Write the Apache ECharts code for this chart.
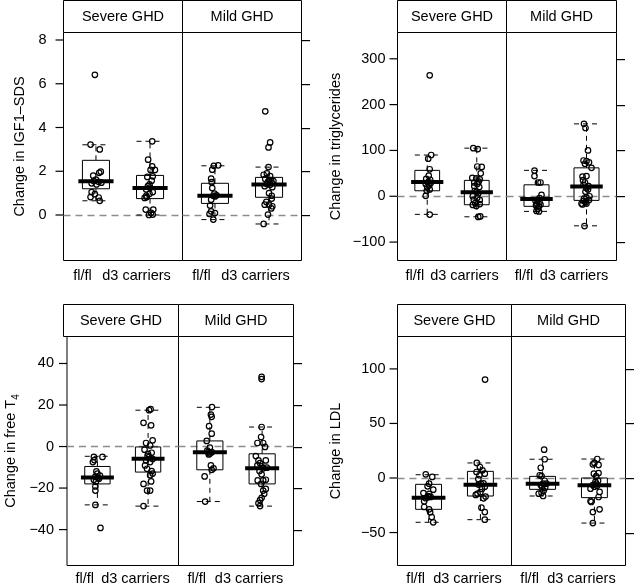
<!DOCTYPE html>
<html>
<head>
<meta charset="utf-8">
<script src="https://cdn.jsdelivr.net/npm/echarts@6/dist/echarts.min.js"></script>
<style>html,body{margin:0;padding:0;background:#fff}#c{width:634px;height:587px}</style>
</head>
<body>
<div id="c"></div>
<script>
// ---------------- data ----------------
const categories = ['fl/fl', 'd3 carriers'];
const facets = ['Severe GHD', 'Mild GHD'];

const igfTicks = [0, 2, 4, 6, 8];
const trigTicks = [-100, 0, 100, 200, 300];
const t4Ticks = [-40, -20, 0, 20, 40];
const ldlTicks = [-50, 0, 50, 100];

// box stats: [min, Q1, median, Q3, max] for [fl/fl, d3 carriers]
const igfBoxSevere = [[0.65, 1.20, 1.54, 2.50, 3.21], [0.0, 0.75, 1.23, 1.81, 3.37]];
const igfBoxMild = [[-0.21, 0.53, 0.88, 1.45, 2.25], [-0.41, 0.81, 1.39, 1.72, 2.19]];
const trigBoxSevere = [[-39.5, 12, 31, 56.5, 90], [-44.8, -18.5, 8.5, 34.7, 105]];
const trigBoxMild = [[-33, -22, -6, 25, 56.5], [-64.5, -9, 21.5, 62, 158]];
const t4BoxSevere = [[-28.1, -18, -14.9, -9.6, -4.7], [-28.7, -12.3, -5.9, -0.2, 17.5]];
const t4BoxMild = [[-26.5, -11.2, -2.7, 2.7, 18.9], [-28.7, -18, -10.4, -3.5, 9.4]];
const ldlBoxSevere = [[-40.6, -28.7, -18, -5.8, 3], [-38.2, -16.5, -6.1, 6.1, 13.8]];
const ldlBoxMild = [[-16.5, -10.4, -5.2, 1.5, 17.2], [-41.3, -18, -6.7, 0, 17.4]];

// individual points: [horizontal jitter, value]
const igfSevereFl = [[-0.02,6.41],[-0.10,3.22],[0.07,3.0],[0.09,1.98],[0.06,1.93],[-0.05,1.80],[0.0,1.62],[-0.04,1.55],[0.05,1.52],[0.10,1.48],[-0.08,1.45],[0.01,1.40],[-0.08,1.05],[-0.02,0.95],[-0.10,0.82],[0.05,0.80],[0.07,0.65]];
const igfSevereD3 = [[0.04,3.37],[-0.035,2.53],[0.04,2.22],[0.09,2.06],[0.01,2.06],[0.05,1.77],[-0.05,1.74],[0.03,1.57],[-0.01,1.40],[-0.04,1.32],[0.0,1.25],[-0.07,1.17],[0.05,1.05],[-0.01,0.97],[-0.07,0.88],[-0.10,0.78],[-0.06,0.82],[-0.08,0.25],[0.06,0.25],[0.02,0.10],[0.05,0.02],[-0.02,0.0]];
const igfMildFl = [[-0.02,2.25],[0.06,2.27],[-0.05,2.07],[-0.07,1.66],[-0.06,1.5],[-0.05,1.23],[-0.01,0.98],[-0.03,0.88],[0.0,0.85],[0.03,0.9],[-0.07,0.7],[-0.09,0.43],[-0.07,0.17],[0.0,0.09],[-0.03,-0.21],[-0.10,0.05]];
const igfMildD3 = [[-0.07,4.74],[0.02,3.32],[-0.01,3.09],[-0.01,2.19],[-0.10,1.84],[-0.04,1.90],[0.02,1.78],[-0.07,1.65],[0.0,1.58],[-0.02,1.52],[0.05,1.48],[-0.04,1.42],[0.02,1.38],[-0.08,1.32],[0.06,1.27],[0.0,1.0],[0.05,0.88],[-0.08,0.47],[0.0,0.47],[0.06,0.40],[0.05,0.75],[-0.02,0.02],[-0.10,-0.41],[0.03,1.6],[0.08,1.55],[-0.05,0.6],[0.04,0.3]];

const trigSevereFl = [[0.05,264],[0.08,90],[0.02,82],[0.05,59],[0.03,45],[-0.02,38],[0.06,36],[0.02,31],[0.07,29],[-0.03,27],[0.04,24],[0.0,20],[0.05,15],[-0.01,12],[-0.03,1],[0.05,-40]];
const trigSevereD3 = [[-0.07,105],[0.02,103],[0.01,65],[0.10,64],[0.08,50],[-0.09,40],[-0.01,39],[0.06,37],[-0.05,30],[0.01,27],[-0.05,22],[0.05,20],[0.0,10],[0.03,6],[-0.08,0],[0.01,-3],[-0.06,-8],[0.06,-8],[-0.03,-15],[-0.08,-19],[-0.01,-21],[0.06,-17],[0.03,-45],[0.07,-44],[-0.04,12],[0.04,32]];
const trigMildFl = [[-0.04,56],[-0.04,44],[0.03,30],[0.08,30],[0.10,3],[0.06,-4],[0.03,-8],[-0.02,-10],[0.06,-13],[0.01,-16],[0.05,-22],[0.03,-27],[0.0,-32],[0.05,-33],[-0.01,-20],[0.08,-18]];
const trigMildD3 = [[-0.05,158],[-0.02,149],[0.03,100],[-0.06,78],[0.0,77],[-0.03,71],[0.05,74],[0.10,62],[-0.08,43],[0.0,44],[-0.07,35],[-0.03,30],[-0.06,25],[0.0,18],[0.03,15],[-0.02,10],[0.06,0],[0.0,-3],[0.05,-8],[-0.06,-10],[-0.02,-13],[-0.08,-18],[-0.1,-16],[0.0,-16],[-0.04,-65],[0.04,22],[-0.05,-5]];

const t4SevereFl = [[-0.07,-5],[0.10,-5],[-0.09,-7.5],[-0.06,-6.5],[-0.02,-12],[0.0,-13],[-0.04,-14.5],[0.01,-15],[-0.07,-16],[-0.03,-17],[0.03,-15.5],[0.05,-14],[-0.04,-19.2],[-0.04,-21.2],[-0.04,-28.1],[0.06,-39.2]];
const t4SevereD3 = [[0.02,17.5],[0.05,18],[-0.09,11.4],[0.06,10.2],[0.09,3],[-0.04,1.7],[0.04,0.5],[-0.07,-1.5],[0.07,-3],[-0.01,-4.5],[0.02,-5],[-0.04,-6.7],[0.04,-7.5],[0.09,-6],[-0.06,-9.1],[-0.02,-10.7],[0.07,-11.8],[0.09,-13],[0.04,-13.8],[-0.09,-18],[0.06,-16.8],[-0.02,-21.2],[0.04,-21.2],[-0.09,-28.7],[0.0,-3.5]];
const t4MildFl = [[0.04,19],[0.02,15.4],[0.035,14.3],[-0.015,9.8],[0.035,6.2],[-0.06,2.7],[0.0,-0.5],[-0.03,-2.7],[0.035,-2.7],[0.0,-3.3],[-0.05,-2],[-0.02,-3.8],[0.02,-9.1],[0.035,-11.2],[-0.1,-14.4],[-0.09,-26.5],[0.07,-10.5]];
const t4MildD3 = [[-0.01,33.6],[-0.01,32.5],[-0.01,9.4],[-0.02,4.6],[-0.09,1.7],[0.02,1.7],[0.055,-0.2],[-0.12,-4.6],[-0.07,-6.7],[0.07,-6.7],[-0.04,-8],[-0.09,-9.1],[-0.01,-9.5],[0.02,-10.5],[0.09,-10.2],[-0.05,-11.8],[-0.01,-13.4],[-0.085,-16.3],[0.02,-16.3],[0.07,-16],[-0.02,-18],[0.07,-20.4],[0.02,-21.2],[0.04,-22.8],[-0.01,-24.7],[-0.04,-25.8],[-0.07,-27.3],[-0.04,-28.7]];

const ldlSevereFl = [[-0.055,3.4],[0.07,1],[0.01,-5.2],[-0.02,-7.6],[0.09,-10.7],[-0.1,-13.8],[0.01,-14.5],[-0.01,-16.7],[0.04,-17.3],[-0.055,-18.5],[0.0,-17.5],[-0.085,-21.4],[-0.085,-26.6],[0.01,-28.7],[0.03,-31.3],[0.06,-35.8],[0.09,-40.6]];
const ldlSevereD3 = [[0.09,90.2],[-0.07,13.8],[-0.01,10.1],[-0.075,5.5],[0.04,7],[0.085,4],[-0.02,2.5],[0.01,-5.2],[0.06,-5],[-0.035,-6],[0.085,-8],[-0.055,-14.4],[-0.09,-15.5],[0.0,-13],[0.06,-18.6],[0.1,-17],[0.02,-27.2],[0.085,-31.2],[0.085,-38.2],[-0.04,-1],[0.03,-10]];
const ldlMildFl = [[0.03,26],[0.04,17.2],[-0.035,9.4],[-0.055,2.5],[-0.02,1.8],[0.04,-2.5],[0.01,-5.2],[0.075,-5.2],[-0.035,-6.5],[-0.01,-8],[0.02,-11.6],[-0.075,-14.4],[0.01,-16.5],[-0.02,-13.5],[0.05,-9]];
const ldlMildD3 = [[0.055,17.4],[0.0,13.8],[0.08,12],[-0.03,12.5],[-0.01,4],[0.08,4.5],[0.035,1.5],[0.07,-2.5],[0.035,-5.2],[-0.03,-6.5],[-0.075,-9.8],[0.0,-8],[0.1,-12.8],[0.08,-17.4],[-0.075,-21.1],[-0.06,-22],[-0.03,-31.2],[0.1,-28.7],[-0.03,-41.3],[0.05,-7],[0.02,-3.5]];

// ---------------- layout ----------------
const FONT = 'Liberation Sans, Arial, Helvetica, sans-serif';
const FS = 14.5;
const X_MIN = 0.4, X_MAX = 2.6;
const TICK_LEN = 8;
const panels = [
  { name: 'Change in IGF1–SDS', ticks: igfTicks, boxes: [igfBoxSevere, igfBoxMild],
    pts: [[igfSevereFl, igfSevereD3], [igfMildFl, igfMildD3]],
    xs: [63.5, 182.5, 301.5], stripTop: 0.5, top: 32.5, bottom: 260.5, ymin: -2.08, ymax: 8.343,
    labelMargin: 17, nameGap: 36, xMargin: 8 },
  { name: 'Change in triglycerides', ticks: trigTicks, boxes: [trigBoxSevere, trigBoxMild],
    pts: [[trigSevereFl, trigSevereD3], [trigMildFl, trigMildD3]],
    xs: [397.5, 506.5, 616.5], stripTop: 0.5, top: 32.5, bottom: 260.5, ymin: -140.2, ymax: 357.4,
    labelMargin: 12, nameGap: 54, xMargin: 8 },
  { name: 'Change in free T{sub|4}', rich: true, ticks: t4Ticks, boxes: [t4BoxSevere, t4BoxMild],
    pts: [[t4SevereFl, t4SevereD3], [t4MildFl, t4MildD3]],
    xs: [63.5, 178.5, 293.5], stripTop: 304.5, top: 336.5, bottom: 565.5, ymin: -57.3, ymax: 53.0,
    labelMargin: 13, nameGap: 46, xMargin: 6 },
  { name: 'Change in LDL', ticks: ldlTicks, boxes: [ldlBoxSevere, ldlBoxMild],
    pts: [[ldlSevereFl, ldlSevereD3], [ldlMildFl, ldlMildD3]],
    xs: [397.5, 511.5, 625.5], stripTop: 304.5, top: 336.5, bottom: 565.5, ymin: -80.2, ymax: 129.7,
    labelMargin: 12, nameGap: 54, xMargin: 6 }
];

const BOX_W = 0.5, MED_W = 0.65;
const DASH = [5, 4];

function renderBox(params, api) {
  const x = api.value(0);
  const pMin = api.coord([x, api.value(1)]);
  const pQ1 = api.coord([x, api.value(2)]);
  const pMed = api.coord([x, api.value(3)]);
  const pQ3 = api.coord([x, api.value(4)]);
  const pMax = api.coord([x, api.value(5)]);
  const hw = api.size([BOX_W, 0])[0] / 2;
  const mw = api.size([MED_W, 0])[0] / 2;
  const cx = pMed[0];
  const st = { stroke: '#000', lineWidth: 1, fill: null };
  const ds = { stroke: '#000', lineWidth: 1, lineDash: DASH };
  return {
    type: 'group',
    children: [
      { type: 'line', shape: { x1: cx, y1: pQ3[1], x2: cx, y2: pMax[1] }, style: ds },
      { type: 'line', shape: { x1: cx, y1: pQ1[1], x2: cx, y2: pMin[1] }, style: ds },
      { type: 'line', shape: { x1: cx - hw, y1: pMax[1], x2: cx + hw, y2: pMax[1] }, style: ds },
      { type: 'line', shape: { x1: cx - hw, y1: pMin[1], x2: cx + hw, y2: pMin[1] }, style: ds },
      { type: 'rect', shape: { x: cx - hw, y: pQ3[1], width: 2 * hw, height: pQ1[1] - pQ3[1] }, style: st },
      { type: 'line', shape: { x1: cx - mw, y1: pMed[1], x2: cx + mw, y2: pMed[1] }, style: { stroke: '#000', lineWidth: 4 } }
    ]
  };
}

const grid = [], xAxis = [], yAxis = [], series = [], graphic = [];
const minus = v => String(v).replace('-', '\u2212');

// linear value -> pixel mapping of a panel's y axis (same extent as the axis)
const axisY = (p, t) => p.bottom - (t - p.ymin) / (p.ymax - p.ymin) * (p.bottom - p.top);

panels.forEach((p, pi) => {
  for (let f = 0; f < 2; f++) {
    const g = pi * 2 + f;
    const x0 = p.xs[f], x1 = p.xs[f + 1];
    grid.push({ left: x0, top: p.top, width: x1 - x0, height: p.bottom - p.top,
      show: true, borderColor: '#000', borderWidth: 1, backgroundColor: 'transparent' });
    xAxis.push({ gridIndex: g, type: 'value', min: X_MIN, max: X_MAX,
      axisLine: { show: false }, axisTick: { show: false }, splitLine: { show: false },
      axisLabel: { customValues: [0.75, 1.75], formatter: v => (v < 1.25 ? categories[0] : categories[1]),
        margin: p.xMargin, color: '#000', fontSize: FS, fontFamily: FONT, showMinLabel: true, showMaxLabel: true } });
    // left-facet labels carry their own outward tick mark as a rich-text box
    const ya = { gridIndex: g, type: 'value', min: p.ymin, max: p.ymax,
      position: f === 0 ? 'left' : 'right',
      axisLine: { show: false }, splitLine: { show: false }, axisTick: { show: false },
      axisLabel: { show: f === 0, customValues: p.ticks, margin: 0,
        formatter: v => '{n|' + minus(v) + '}{g|}{k|}',
        rich: {
          n: { color: '#000', fontSize: FS, fontFamily: FONT, verticalAlign: 'middle' },
          g: { width: p.labelMargin - TICK_LEN, height: 1, verticalAlign: 'middle' },
          k: { width: TICK_LEN, height: 1.2, backgroundColor: '#000', verticalAlign: 'middle' }
        },
        color: '#000', fontSize: FS, fontFamily: FONT } };
    if (f === 0) {
      ya.name = p.name;
      ya.nameLocation = 'middle';
      ya.nameRotate = 90;
      ya.nameGap = p.nameGap;
      ya.nameTextStyle = { color: '#000', fontSize: FS, fontFamily: FONT };
      if (p.rich) {
        ya.nameTextStyle.lineHeight = 20;
        ya.nameTextStyle.rich = { sub: { fontSize: 10, fontFamily: FONT, color: '#000', lineHeight: 10, verticalAlign: 'bottom' } };
      }
    }
    yAxis.push(ya);

    series.push({ type: 'custom', xAxisIndex: g, yAxisIndex: g, renderItem: renderBox,
      encode: { x: 0, y: [1, 2, 3, 4, 5] }, silent: true, z: 2,
      data: p.boxes[f].map((b, ci) => [ci + 1].concat(b)) });
    for (let c = 0; c < 2; c++) {
      const s = { type: 'scatter', xAxisIndex: g, yAxisIndex: g, symbol: 'circle', symbolSize: 5.5,
        silent: true, z: 3,
        itemStyle: { color: 'rgba(255,255,255,0)', borderColor: '#000', borderWidth: 1.2, opacity: 1 },
        data: p.pts[f][c].map(d => [c + 1 + d[0], d[1]]) };
      if (c === 0) {
        s.markLine = { silent: true, symbol: ['none', 'none'], label: { show: false },
          lineStyle: { type: [7, 5], color: '#8c8c8c', width: 1.3 }, emphasis: { disabled: true },
          data: [{ yAxis: 0 }], z: 1 };
      }
      series.push(s);
    }
    graphic.push({ type: 'rect', shape: { x: x0, y: p.stripTop, width: x1 - x0, height: p.top - p.stripTop },
      style: { fill: '#fff', stroke: '#000', lineWidth: 1 }, silent: true, z: 10 });
    graphic.push({ type: 'text', x: (x0 + x1) / 2, y: (p.stripTop + p.top) / 2 + 0.5,
      style: { text: facets[f], fill: '#000', font: FS + 'px ' + FONT, textAlign: 'center', textVerticalAlign: 'middle' },
      silent: true, z: 11 });
    // outward tick marks on the right panel edges
    if (f === 1) {
      const edge = p.xs[2] + 0.5;
      p.ticks.forEach(t => {
        const y = Math.round(axisY(p, t));
        graphic.push({ type: 'rect', silent: true, z: 100,
          shape: { x: edge, y: y, width: TICK_LEN, height: 1.2 },
          style: { fill: '#000', stroke: null } });
      });
    }
  }
});

const chart = echarts.init(document.getElementById('c'), null, { renderer: 'canvas' });
chart.setOption({ animation: false, backgroundColor: '#fff', grid, xAxis, yAxis, series, graphic });
</script>
</body>
</html>
